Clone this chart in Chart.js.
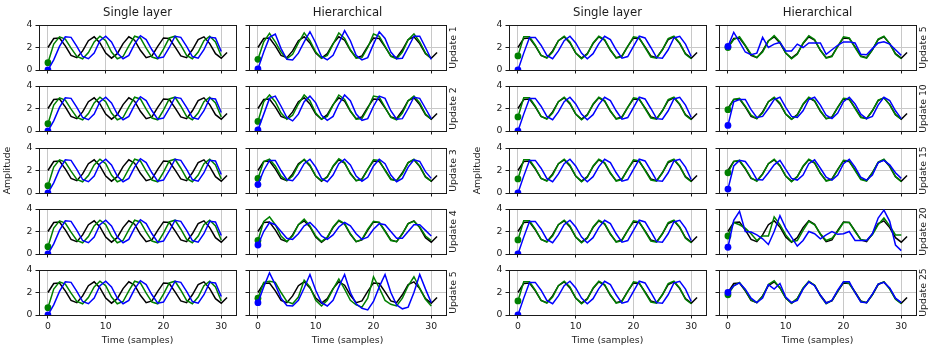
<!DOCTYPE html>
<html><head><meta charset="utf-8">
<script src="https://cdn.jsdelivr.net/npm/chart.js@4/dist/chart.umd.min.js"></script>
<style>
html,body{margin:0;padding:0;background:#fff;width:930px;height:347px;overflow:hidden;position:relative}
canvas{position:absolute}
</style></head><body>
<script>
// ---------------- data ----------------
const xTicks = [0, 10, 20, 30];
const yTicks = [0, 2, 4];
const columnTitles = ['Single layer', 'Hierarchical', 'Single layer', 'Hierarchical'];
const updatesLeft = ['Update 1', 'Update 2', 'Update 3', 'Update 4', 'Update 5'];
const updatesRight = ['Update 5', 'Update 10', 'Update 15', 'Update 20', 'Update 25'];
const xTitle = 'Time (samples)';
const yTitle = 'Amplitude';

// target signal (black), samples 0..31
const target = [2.0, 2.8, 2.85, 2.15, 1.3, 1.1, 1.7, 2.6, 2.95, 2.4, 1.5, 1.05, 1.45, 2.35, 2.95, 2.65,
  1.75, 1.1, 1.25, 2.1, 2.85, 2.8, 2.05, 1.25, 1.1, 1.8, 2.7, 2.95, 2.35, 1.45, 1.05, 1.55];

// single layer, left group (same in every row)
const singleLeftGreen = [0.65, 2.3, 2.95, 2.75, 1.95, 1.2, 1.0, 1.55, 2.5, 3.0, 2.6, 1.6, 1.0, 1.2, 2.15, 3.0,
  2.85, 1.95, 1.15, 1.0, 1.85, 2.85, 3.0, 2.2, 1.3, 1.0, 1.6, 2.6, 3.0, 2.5, 1.25];
const singleLeftBlue = [0.0, 0.9, 2.1, 2.95, 2.9, 2.1, 1.2, 1.0, 1.5, 2.6, 3.0, 2.5, 1.5, 1.0, 1.3, 2.3,
  3.05, 2.7, 1.8, 1.05, 1.15, 2.0, 3.0, 2.9, 2.1, 1.2, 1.05, 1.8, 2.9, 2.85, 1.65];

// single layer, right group (same in every row)
const singleRightGreen = [1.25, 2.95, 2.95, 2.2, 1.3, 1.05, 1.6, 2.6, 3.0, 2.5, 1.5, 1.0, 1.4, 2.4, 3.0, 2.7,
  1.8, 1.05, 1.2, 2.1, 2.95, 2.85, 2.0, 1.15, 1.05, 1.8, 2.8, 3.0, 2.4, 1.4, 1.0];
const singleRightBlue = [0.0, 1.5, 2.9, 2.9, 2.2, 1.3, 1.0, 1.7, 2.6, 3.0, 2.4, 1.5, 1.0, 1.45, 2.35, 3.0,
  2.7, 1.8, 1.05, 1.2, 2.1, 3.0, 2.85, 2.0, 1.1, 1.05, 1.8, 2.85, 3.0, 2.3, 1.2];

// hierarchical, left group (updates 1..5)
const hierU1Green = [0.95, 2.5, 3.25, 2.5, 1.6, 1.0, 1.4, 2.4, 3.3, 2.6, 1.6, 1.05, 1.3, 2.3, 3.3, 2.8,
  1.8, 1.05, 1.1, 2.0, 3.2, 3.0, 2.1, 1.2, 1.0, 1.6, 2.7, 3.2, 2.5, 1.5, 1.0];
const hierU1Blue = [0.1, 1.6, 2.9, 3.2, 1.9, 0.95, 0.9, 1.5, 2.5, 3.4, 2.4, 1.2, 0.9, 1.3, 2.4, 3.5,
  2.6, 1.3, 0.9, 1.1, 2.3, 3.4, 2.8, 1.6, 1.0, 1.05, 2.0, 3.0, 3.0, 2.0, 0.95];
const hierU2Green = [0.85, 2.6, 3.2, 2.6, 1.6, 1.05, 1.4, 2.4, 3.2, 2.7, 1.6, 1.05, 1.3, 2.3, 3.2, 2.8,
  1.8, 1.05, 1.1, 2.0, 3.1, 3.0, 2.1, 1.2, 1.0, 1.6, 2.7, 3.1, 2.5, 1.5, 1.05];
const hierU2Blue = [0.1, 1.5, 2.9, 3.1, 2.2, 1.2, 0.9, 1.5, 2.6, 3.1, 2.5, 1.4, 0.95, 1.3, 2.4, 3.2,
  2.7, 1.5, 0.95, 1.1, 2.2, 3.1, 2.9, 1.8, 1.05, 1.1, 2.0, 3.0, 2.9, 2.0, 1.1];
const hierU3Green = [1.3, 2.8, 3.0, 2.4, 1.5, 1.1, 1.5, 2.5, 3.0, 2.5, 1.5, 1.1, 1.4, 2.4, 3.05, 2.7,
  1.7, 1.1, 1.2, 2.1, 2.95, 2.9, 2.0, 1.2, 1.1, 1.7, 2.7, 3.0, 2.4, 1.4, 1.05];
const hierU3Blue = [0.75, 2.0, 2.9, 2.9, 2.0, 1.2, 1.1, 1.7, 2.6, 3.0, 2.3, 1.3, 1.0, 1.6, 2.6, 3.0,
  2.5, 1.5, 1.05, 1.4, 2.4, 3.0, 2.6, 1.6, 1.0, 1.3, 2.3, 2.95, 2.8, 1.9, 1.3];
const hierU4Green = [1.2, 2.9, 3.3, 2.6, 1.6, 1.1, 1.6, 2.6, 3.1, 2.5, 1.6, 1.1, 1.5, 2.4, 3.0, 2.7,
  1.8, 1.1, 1.3, 2.2, 2.9, 2.8, 2.0, 1.2, 1.1, 1.8, 2.7, 2.9, 2.4, 1.6, 1.2];
const hierU4Blue = [0.8, 2.0, 2.8, 2.6, 2.0, 1.4, 1.3, 1.8, 2.5, 2.8, 2.3, 1.6, 1.3, 1.7, 2.4, 2.8,
  2.5, 1.8, 1.3, 1.5, 2.2, 2.7, 2.6, 2.0, 1.4, 1.4, 2.0, 2.6, 2.6, 2.1, 1.6];
const hierU5Green = [1.5, 2.9, 3.0, 2.9, 2.0, 1.2, 1.0, 1.6, 3.1, 2.5, 1.3, 0.8, 1.3, 2.3, 3.2, 2.3,
  1.3, 0.9, 0.7, 1.5, 3.4, 2.4, 1.3, 0.95, 0.8, 1.5, 2.6, 3.4, 2.4, 1.4, 0.8];
const hierU5Blue = [1.1, 2.5, 3.75, 2.7, 1.5, 0.85, 0.8, 1.3, 2.4, 3.6, 2.2, 1.1, 0.8, 1.3, 2.5, 3.6,
  2.0, 1.0, 0.6, 0.45, 1.2, 2.5, 3.6, 2.0, 0.9, 0.55, 0.7, 2.0, 3.6, 2.3, 1.1];

// hierarchical, right group (updates 5..25)
const hierR5Green = [2.0, 2.7, 2.95, 2.2, 1.4, 1.1, 1.6, 2.55, 3.05, 2.5, 1.5, 1.0, 1.4, 2.4, 3.05, 2.7,
  1.75, 1.05, 1.2, 2.1, 2.95, 2.85, 2.0, 1.2, 1.05, 1.8, 2.75, 3.0, 2.35, 1.4, 1.0];
const hierR5Blue = [2.1, 3.35, 2.5, 1.6, 1.35, 1.5, 2.9, 2.0, 2.3, 2.45, 1.7, 1.7, 2.3, 2.0, 2.4, 2.4,
  2.4, 1.4, 1.8, 2.2, 2.5, 2.5, 2.4, 1.4, 1.35, 1.9, 2.4, 2.5, 2.3, 1.8, 1.3];
const hierR10Green = [1.9, 2.8, 2.9, 2.2, 1.4, 1.1, 1.6, 2.6, 3.0, 2.5, 1.5, 1.05, 1.4, 2.4, 3.0, 2.7,
  1.8, 1.1, 1.2, 2.1, 2.9, 2.85, 2.0, 1.2, 1.1, 1.8, 2.75, 2.95, 2.35, 1.45, 1.05];
const hierR10Blue = [0.5, 2.6, 2.8, 2.8, 1.9, 1.2, 1.3, 2.0, 2.8, 3.0, 2.1, 1.3, 1.2, 1.8, 2.8, 3.0,
  2.3, 1.4, 1.1, 1.6, 2.6, 3.0, 2.4, 1.5, 1.1, 1.3, 2.3, 3.0, 2.7, 1.8, 1.1];
const hierR15Green = [1.8, 2.8, 2.9, 2.2, 1.35, 1.05, 1.65, 2.6, 3.0, 2.45, 1.5, 1.0, 1.45, 2.4, 3.0, 2.7,
  1.75, 1.05, 1.2, 2.05, 2.9, 2.85, 2.0, 1.2, 1.05, 1.8, 2.75, 3.0, 2.4, 1.45, 1.0];
const hierR15Blue = [0.35, 2.4, 2.9, 2.8, 2.1, 1.2, 1.15, 1.8, 2.5, 2.9, 2.1, 1.3, 1.15, 1.6, 2.6, 2.95,
  2.2, 1.4, 1.15, 1.6, 2.6, 3.0, 2.3, 1.4, 1.15, 1.6, 2.7, 2.9, 2.5, 1.8, 1.3];
const hierR20Green = [1.6, 2.8, 2.6, 2.3, 1.8, 1.2, 1.6, 1.6, 3.3, 2.6, 1.7, 1.1, 1.2, 2.1, 2.9, 2.6,
  1.8, 1.2, 1.4, 2.0, 2.8, 2.8, 2.0, 1.3, 1.2, 1.7, 2.6, 3.2, 2.5, 1.7, 1.7];
const hierR20Blue = [0.6, 3.0, 3.8, 2.0, 1.95, 1.7, 1.35, 0.85, 2.0, 3.4, 2.3, 1.5, 0.7, 1.2, 2.0, 1.8,
  1.35, 1.7, 2.0, 1.75, 1.8, 2.0, 1.2, 1.2, 1.2, 1.8, 3.2, 3.9, 2.9, 0.8, 0.3];
const hierR25Green = [1.8, 2.6, 2.9, 2.2, 1.35, 1.1, 1.65, 2.7, 3.05, 2.4, 1.5, 1.05, 1.45, 2.4, 3.0, 2.65,
  1.7, 1.0, 1.3, 2.1, 2.95, 2.8, 2.0, 1.2, 1.1, 1.8, 2.75, 2.95, 2.3, 1.4, 1.0];
const hierR25Blue = [2.0, 2.6, 2.85, 2.3, 1.5, 1.1, 1.5, 2.7, 2.3, 2.8, 1.6, 1.1, 1.3, 2.3, 2.95, 2.6,
  1.75, 1.05, 1.3, 2.2, 2.95, 2.95, 2.0, 1.15, 1.1, 1.85, 2.75, 2.9, 2.4, 1.5, 1.1];

// panel grid: [row][col] -> [green, blue]
const panelSeries = [
  [[singleLeftGreen, singleLeftBlue], [hierU1Green, hierU1Blue], [singleRightGreen, singleRightBlue], [hierR5Green, hierR5Blue]],
  [[singleLeftGreen, singleLeftBlue], [hierU2Green, hierU2Blue], [singleRightGreen, singleRightBlue], [hierR10Green, hierR10Blue]],
  [[singleLeftGreen, singleLeftBlue], [hierU3Green, hierU3Blue], [singleRightGreen, singleRightBlue], [hierR15Green, hierR15Blue]],
  [[singleLeftGreen, singleLeftBlue], [hierU4Green, hierU4Blue], [singleRightGreen, singleRightBlue], [hierR20Green, hierR20Blue]],
  [[singleLeftGreen, singleLeftBlue], [hierU5Green, hierU5Blue], [singleRightGreen, singleRightBlue], [hierR25Green, hierR25Blue]]
];

// ---------------- layout / style ----------------
const FONT = 'DejaVu Sans';
const TXT = '#1a1a1a';
Chart.defaults.font.family = FONT;
Chart.defaults.color = TXT;

const colLeft = [39, 249, 509, 719];
const rowTop = [25, 86, 148, 209, 270];
const PW = 197, PH = 45;
const PL = 40, PR = 16, PT = 22, PB = 34;
const X_MIN = -1.55, X_MAX = 32.55;

const sideLabelPlugin = {
  id: 'sideLabel',
  afterDraw(chart, args, opts) {
    if (!opts || !opts.text) return;
    const a = chart.chartArea, ctx = chart.ctx;
    ctx.save();
    ctx.translate(a.right + 7.5, (a.top + a.bottom) / 2);
    ctx.rotate(-Math.PI / 2);
    ctx.font = '9.3px "' + FONT + '"';
    ctx.fillStyle = TXT;
    ctx.textAlign = 'center';
    ctx.textBaseline = 'middle';
    ctx.fillText(opts.text, 0, 0);
    ctx.restore();
  }
};

function pts(vals) { return vals.map((v, i) => ({ x: i, y: v })); }
function fixTicks(list) { return s => { s.ticks = list.map(v => ({ value: v })); }; }

const gridCfg = { color: '#c8c8c8', lineWidth: 1, tickColor: '#1a1a1a', tickWidth: 1, tickLength: 3.5 };
const borderCfg = { display: true, color: '#1a1a1a', width: 1 };

for (let r = 0; r < 5; r++) {
  for (let c = 0; c < 4; c++) {
    const [green, blue] = panelSeries[r][c];
    const cv = document.createElement('canvas');
    const w = PW + PL + PR, h = PH + PT + PB;
    cv.width = w; cv.height = h;
    cv.style.width = w + 'px'; cv.style.height = h + 'px';
    cv.style.left = (colLeft[c] - PL) + 'px';
    cv.style.top = (rowTop[r] - PT) + 'px';
    document.body.appendChild(cv);
    const showYLabels = (c === 0 || c === 2);
    const sideText = (c === 1) ? updatesLeft[r] : (c === 3 ? updatesRight[r] : '');
    const dot = ctx => ctx.dataIndex === 0 ? 3.4 : 0;
    new Chart(cv, {
      type: 'line',
      data: {
        datasets: [
          { data: pts(target), borderColor: '#000000', borderWidth: 1.5, pointRadius: 0, order: 3 },
          { data: pts(green), borderColor: '#008000', backgroundColor: '#008000', borderWidth: 1.5,
            pointRadius: dot, pointBorderWidth: 0, order: 2 },
          { data: pts(blue), borderColor: '#0000ff', backgroundColor: '#0000ff', borderWidth: 1.5,
            pointRadius: dot, pointBorderWidth: 0, order: 1 }
        ]
      },
      options: {
        responsive: false, animation: false, devicePixelRatio: 1,
        layout: { padding: 0 },
        plugins: { legend: { display: false }, tooltip: { enabled: false },
          sideLabel: { text: sideText } },
        elements: { line: { tension: 0 } },
        scales: {
          x: {
            type: 'linear', position: 'bottom', min: X_MIN, max: X_MAX,
            afterBuildTicks: fixTicks(xTicks),
            afterFit: s => { s.height = PB; },
            grid: gridCfg, border: borderCfg,
            ticks: { display: r === 4, padding: 2.5, maxRotation: 0, font: { size: 9.3 }, color: TXT },
            title: { display: r === 4, text: xTitle, font: { size: 9.3 }, color: TXT, padding: { top: 0, bottom: 3 } }
          },
          x2: {
            type: 'linear', position: 'top', min: X_MIN, max: X_MAX,
            afterFit: s => { s.height = PT; },
            grid: { display: false }, border: borderCfg,
            ticks: { display: false },
            title: { display: r === 0, text: columnTitles[c], font: { size: 11.7 }, color: TXT, padding: { top: 3, bottom: 0 } }
          },
          y: {
            type: 'linear', position: 'left', min: 0, max: 4,
            afterBuildTicks: fixTicks(yTicks),
            afterFit: s => { s.width = PL; },
            grid: gridCfg, border: borderCfg,
            ticks: { display: showYLabels, padding: 3, font: { size: 9.3 }, color: TXT },
            title: { display: showYLabels && r === 2, text: yTitle, font: { size: 9.3 }, color: TXT, padding: { top: 3, bottom: 0 } }
          },
          y2: {
            type: 'linear', position: 'right', min: 0, max: 4,
            afterFit: s => { s.width = PR; },
            grid: { display: false }, border: borderCfg,
            ticks: { display: false }
          }
        }
      },
      plugins: [sideLabelPlugin]
    });
  }
}
</script>
</body></html>
